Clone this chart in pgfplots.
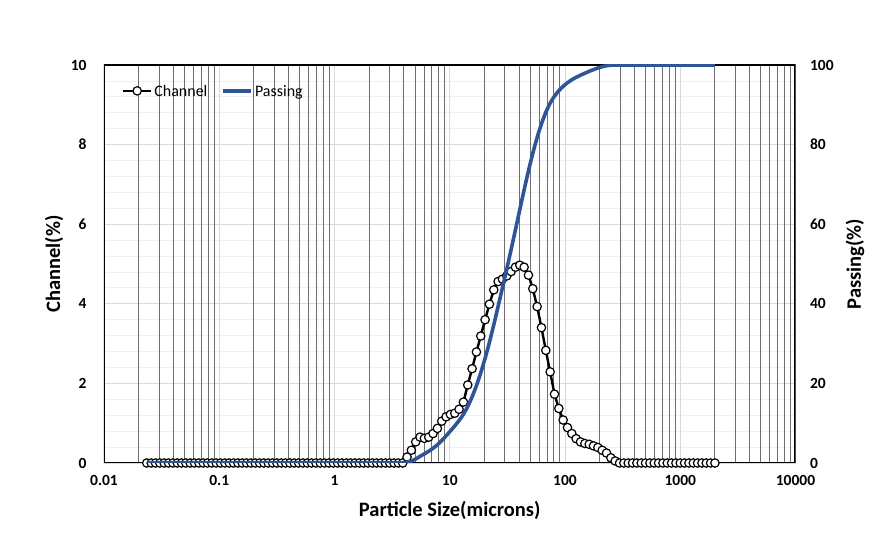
\documentclass[border=0pt]{standalone}
\usepackage{pgfplots}
\pgfplotsset{compat=1.18}
\usepackage{pgfplotstable}
\usepackage{fontspec}
\setmainfont{Carlito}
\definecolor{passblue}{RGB}{47,85,151}
\definecolor{majgrid}{RGB}{217,217,217}
\definecolor{mingrid}{RGB}{240,240,240}
\definecolor{xminor}{RGB}{110,110,110}

\pgfplotstableread{
x ch pass
0.0235 0 0
0.0257 0 0
0.0280 0 0
0.0305 0 0
0.0333 0 0
0.0363 0 0
0.0396 0 0
0.0432 0 0
0.0471 0 0
0.0513 0 0
0.0560 0 0
0.0610 0 0
0.0666 0 0
0.0726 0 0
0.0791 0 0
0.0863 0 0
0.0941 0 0
0.1026 0 0
0.1119 0 0
0.1221 0 0
0.1331 0 0
0.1452 0 0
0.1583 0 0
0.1726 0 0
0.1883 0 0
0.2053 0 0
0.2239 0 0
0.2441 0 0
0.2662 0 0
0.2903 0 0
0.3166 0 0
0.3453 0 0
0.3765 0 0
0.4106 0 0
0.4478 0 0
0.4883 0 0
0.5325 0 0
0.5807 0 0
0.6332 0 0
0.6905 0 0
0.7530 0 0
0.8212 0 0
0.8955 0 0
0.9766 0 0
1.065 0 0
1.161 0 0
1.266 0 0
1.381 0 0
1.506 0 0
1.642 0 0
1.791 0 0
1.953 0 0
2.130 0 0
2.323 0 0
2.533 0 0
2.762 0 0
3.012 0 0
3.285 0 0
3.582 0 0
3.906 0 0
4.260 0.15 0.15
4.645 0.32 0.48
5.066 0.53 1.01
5.524 0.65 1.67
6.024 0.62 2.30
6.570 0.65 2.95
7.164 0.74 3.70
7.8125 0.87 4.58
8.520 1.05 5.64
9.291 1.16 6.82
10.13 1.22 8.05
11.05 1.25 9.31
12.05 1.35 10.68
13.14 1.53 12.23
14.33 1.96 14.21
15.625 2.37 16.61
17.04 2.79 19.43
18.58 3.19 22.66
20.26 3.60 26.30
22.10 3.99 30.33
24.10 4.35 34.73
26.28 4.56 39.34
28.66 4.62 44.02
31.25 4.70 48.77
34.08 4.81 53.63
37.16 4.92 58.61
40.53 4.97 63.64
44.19 4.92 68.61
48.19 4.72 73.39
52.56 4.38 77.82
57.31 3.93 81.79
62.5 3.40 85.23
68.16 2.83 88.09
74.33 2.29 90.41
81.05 1.73 92.16
88.39 1.37 93.54
96.39 1.08 94.64
105.1 0.89 95.54
114.6 0.74 96.29
125.0 0.61 96.90
136.3 0.53 97.44
148.7 0.49 97.93
162.1 0.47 98.41
176.8 0.43 98.84
192.8 0.39 99.24
210.2 0.32 99.56
229.3 0.25 99.82
250.0 0.13 99.95
272.6 0.05 100
297.3 0 100
324.2 0 100
353.6 0 100
385.6 0 100
420.4 0 100
458.5 0 100
500.0 0 100
545.3 0 100
594.6 0 100
648.4 0 100
707.1 0 100
771.1 0 100
840.9 0 100
917.0 0 100
1000 0 100
1090.5 0 100
1189.2 0 100
1296.8 0 100
1414.2 0 100
1542.2 0 100
1681.8 0 100
1834.0 0 100
2000 0 100
}\psd

\begin{document}
\begin{tikzpicture}
\path[use as bounding box] (0pt,0pt) rectangle (887pt,544pt);

% Axis A: horizontal grid, tick labels, axis titles
\begin{axis}[
  at={(104pt,81pt)}, anchor=south west,
  width=691.5pt, height=398pt, scale only axis,
  xmode=log, xmin=0.01, xmax=10000,
  axis line style={draw=none}, tick style={draw=none},
  ymin=0, ymax=10,
  ytick={0,2,4,6,8,10}, yticklabels={0,2,4,6,8,10},
  minor ytick={0.4,0.8,1.2,1.6,2.4,2.8,3.2,3.6,4.4,4.8,5.2,5.6,6.4,6.8,7.2,7.6,8.4,8.8,9.2,9.6},
  ymajorgrids, yminorgrids,
  major grid style={majgrid, line width=0.8pt},
  minor grid style={mingrid, line width=0.8pt},
  xtick={0.01,0.1,1,10,100,1000,10000},
  xticklabels={0.01,0.1,1,10,100,1000,10000},
  minor xtick={},
  xticklabel style={yshift=-9pt, font=\fontsize{15.5}{15.5}\selectfont\bfseries},
  yticklabel style={xshift=-14pt, font=\fontsize{15.5}{15.5}\selectfont\bfseries},
  xlabel style={at={(axis description cs:0.5,-0.118)}, anchor=center,
     font=\fontsize{20.5}{20.5}\selectfont\bfseries},
  ylabel style={at={(axis description cs:-0.0723,0.5)}, anchor=center,
     font=\fontsize{20.5}{20.5}\selectfont\bfseries},
  xlabel={Particle Size(microns)},
  ylabel={Channel(\%)},
]
\addplot[draw=none] coordinates {(1,0)};
\end{axis}

% Axis B: vertical grid, frame, channel series
\begin{axis}[
  at={(104pt,81pt)}, anchor=south west,
  width=691.5pt, height=398pt, scale only axis,
  xmode=log, xmin=0.01, xmax=10000,
  axis line style={draw=none}, tick style={draw=none},
  ymin=0, ymax=10,
  ytick=\empty,
  xtick={0.01,0.1,1,10,100,1000,10000},
  xticklabels={},
  minor xtick={0.02,0.03,0.04,0.05,0.06,0.07,0.08,0.09,
               0.2,0.3,0.4,0.5,0.6,0.7,0.8,0.9,
               2,3,4,5,6,7,8,9,
               20,30,40,50,60,70,80,90,
               200,300,400,500,600,700,800,900,
               2000,3000,4000,5000,6000,7000,8000,9000},
  xmajorgrids, xminorgrids,
  major grid style={majgrid, line width=0.9pt},
  minor grid style={xminor, line width=0.9pt},
]
\draw[black, line width=2.6pt] (rel axis cs:0,0) -- (rel axis cs:1,0);
\draw[white, line width=0.9pt] (rel axis cs:0,0) -- (rel axis cs:1,0);
\draw[black, line width=2.8pt] (rel axis cs:0,-0.003) -- (rel axis cs:0,1) -- (rel axis cs:1,1) -- (rel axis cs:1,-0.003);
\addplot[black, line width=2.4pt, mark=*, mark size=4.2pt,
    mark options={fill=white, draw=black, line width=1.2pt, solid}]
    table[x=x, y=ch] {\psd};
\end{axis}

% Axis C: right axis, passing series, legend
\begin{axis}[
  at={(104pt,81pt)}, anchor=south west,
  width=691.5pt, height=398pt, scale only axis,
  xmode=log, xmin=0.01, xmax=10000,
  axis line style={draw=none}, tick style={draw=none},
  ymin=0, ymax=100,
  xtick=\empty,
  ytick={0,20,40,60,80,100}, yticklabels={0,20,40,60,80,100},
  yticklabel pos=right,
  yticklabel style={xshift=11pt, font=\fontsize{15.5}{15.5}\selectfont\bfseries},
  ylabel style={at={(axis description cs:1.086,0.5)}, anchor=center,
     font=\fontsize{20.5}{20.5}\selectfont\bfseries},
  ylabel={Passing(\%)},
  legend columns=2,
  legend style={draw=none, fill=none, inner sep=0pt, outer sep=0pt,
    at={(axis description cs:0.026,0.935)}, anchor=west,
    font=\fontsize{16}{16}\selectfont,
    nodes={inner sep=0pt, text depth=0pt},
    /tikz/every odd column/.append style={column sep=2pt},
    /tikz/every even column/.append style={column sep=14pt}},
  legend image code/.code={\draw[mark repeat=2, mark phase=2, #1]
     plot coordinates {(0pt,0pt) (14pt,0pt) (28pt,0pt)};},
]
\addlegendimage{black, line width=2.4pt, mark=*, mark size=4.2pt,
    mark options={fill=white, draw=black, line width=1.2pt, solid}}
\addplot[passblue, line width=3.6pt, smooth, tension=0.4] table[x=x, y=pass] {\psd};
\legend{Channel, Passing}
\end{axis}
\end{tikzpicture}
\end{document}
